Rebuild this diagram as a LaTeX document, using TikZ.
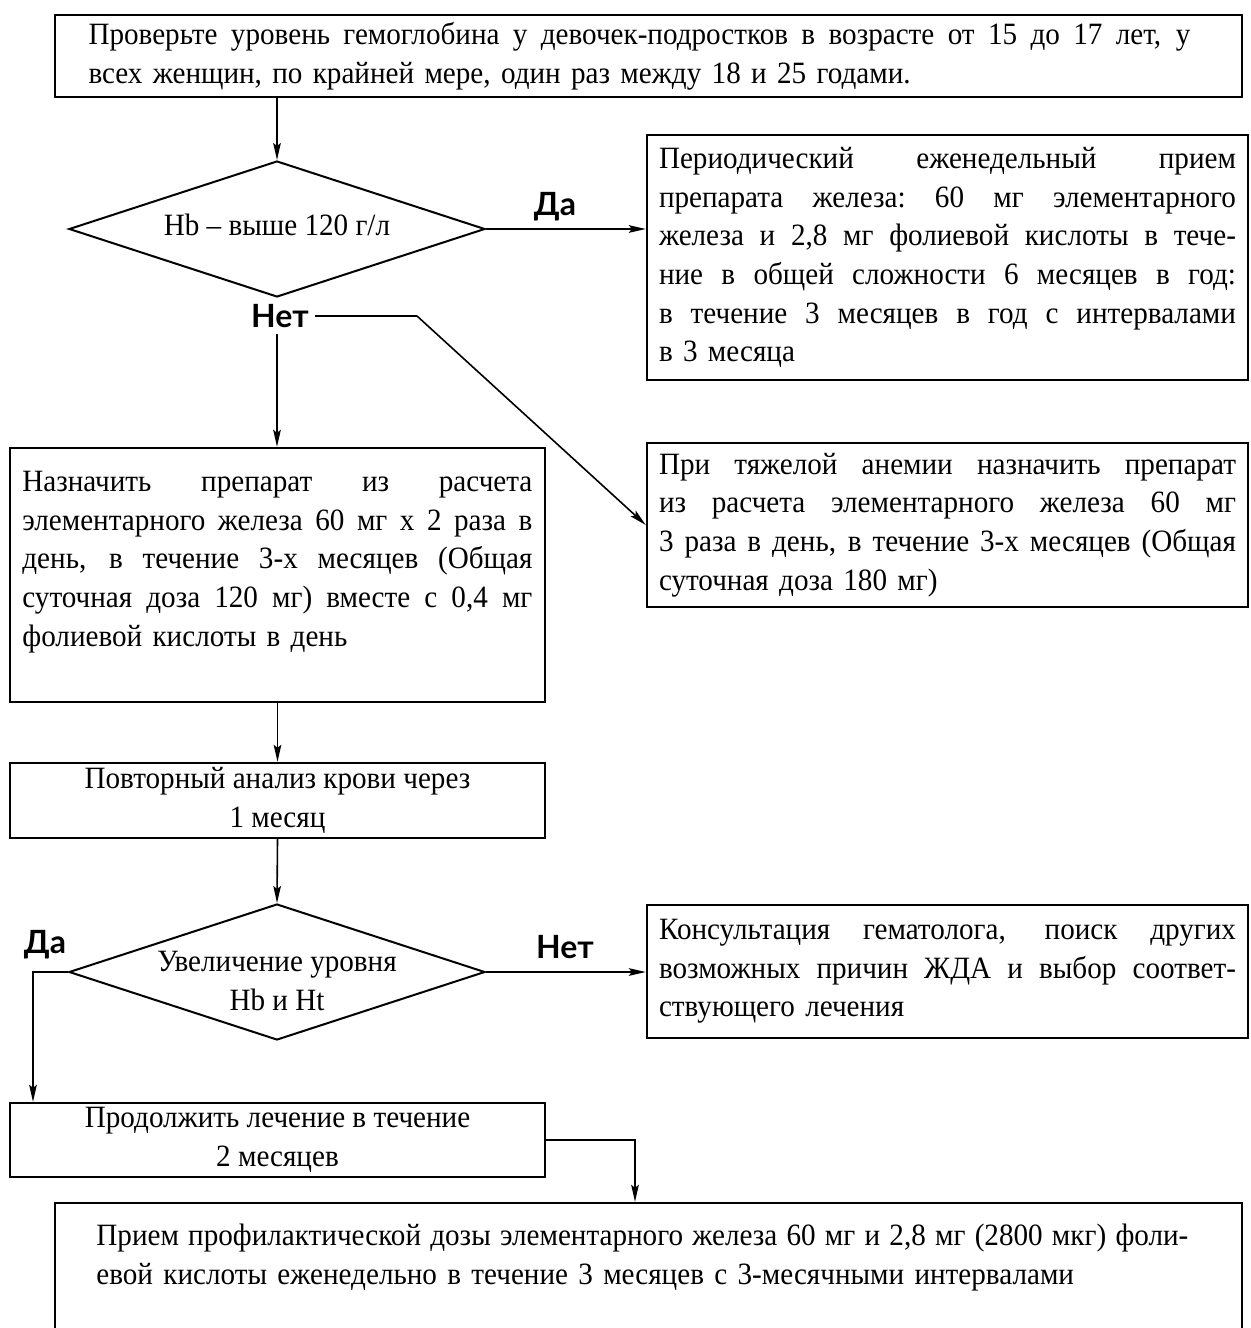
\documentclass[tikz,border=0pt]{standalone}
\usepackage{fontspec}
\setmainfont{Liberation Serif}[FakeStretch=0.94]
\newfontfamily\lblfont{Lato}
\usetikzlibrary{arrows.meta,shapes.geometric,calc}
\newcommand{\jw}[2]{\leavevmode\hbox to #1{\spaceskip=0.25em plus 10em minus 0.05em\relax\xspaceskip=\spaceskip #2}}
\newcommand{\rjl}[1]{\jw{288.5pt}{#1}}
\newcommand{\ljl}[1]{\jw{255pt}{#1}}
\begin{document}
\begin{tikzpicture}[x=0.5pt,y=-0.5pt,
  mainfont/.style={font=\fontsize{15.5}{19.3}\selectfont},
  box/.style={draw, line width=1.2pt, inner sep=0pt, mainfont},
  dia/.style={draw, diamond, line width=1pt, inner sep=0pt, minimum width=208pt, minimum height=68pt},
  txt/.style={inner sep=0pt, mainfont},
  lbl/.style={font=\lblfont\bfseries\fontsize{16}{18}\selectfont, inner sep=3pt},
  ln/.style={line width=0.8pt},
  arr/.style={line width=0.8pt, -{Stealth[length=8.5pt,width=3.8pt,inset=1.5pt]}}
]
\useasboundingbox (0,0) rectangle (1250,1328);

% top box
\node[box, minimum width=593.5pt, minimum height=41pt, text width=560pt, align=left] (top) at (648.5,56)
  {\jw{551pt}{Проверьте уровень гемоглобина у девочек-подростков в возрасте от 15 до 17 лет, у}\\
   всех женщин, по крайней мере, один раз между 18 и 25 годами.};

% decision 1
\node[dia] (d1) at (277,229) {};
\node[txt, align=center] (d1t) at (277,225) {Hb – выше 120 г/л};

% right box 1
\node[box, minimum width=300.5pt, minimum height=122.5pt, text width=288.5pt, align=left] (b1) at (947.5,257.5)
  {\rjl{Периодический еженедельный прием}\\
   \rjl{препарата железа: 60 мг элементарного}\\
   \rjl{железа и 2,8 мг фолиевой кислоты в тече-}\\
   \rjl{ние в общей сложности 6 месяцев в год:}\\
   \rjl{в течение 3 месяцев в год с интервалами}\\
   в 3 месяца};

% right box 2
\node[box, minimum width=300.5pt, minimum height=82pt, text width=288.5pt, align=left] (b2) at (947.5,525)
  {\rjl{При тяжелой анемии назначить препарат}\\
   \rjl{из расчета элементарного железа 60 мг}\\
   \rjl{3 раза в день, в течение 3-х месяцев (Общая}\\
   суточная доза 180 мг)};

% left box 3
\node[box, minimum width=267.5pt, minimum height=127pt] (b3) at (277.5,575) {};
\node[txt, anchor=north west, text width=255pt, align=left] (t3) at (22,471)
  {\ljl{Назначить препарат из расчета}\\
   \ljl{элементарного железа 60 мг х 2 раза в}\\
   \ljl{день, в течение 3-х месяцев (Общая}\\
   \ljl{суточная доза 120 мг) вместе с 0,4 мг}\\
   фолиевой кислоты в день};

% box 4
\node[box, minimum width=267.5pt, minimum height=37.5pt, align=center] (b4) at (277.5,800.5)
  {Повторный анализ крови через\\1 месяц};

% decision 2
\node[dia] (d2) at (277,972) {};
\node[txt, align=center] (d2t) at (277,981) {Увеличение уровня\\Hb и Ht};

% box 5
\node[box, minimum width=300.5pt, minimum height=66.5pt, text width=288.5pt, align=left] (b5) at (947.5,971.5)
  {\rjl{Консультация гематолога, поиск других}\\
   \rjl{возможных причин ЖДА и выбор соответ-}\\
   ствующего лечения};

% box 6
\node[box, minimum width=267.5pt, minimum height=37pt, align=center] (b6) at (277.5,1140)
  {Продолжить лечение в течение\\2 месяцев};

% box 7
\node[box, minimum width=593.5pt, minimum height=71pt] (b7) at (648.5,1274) {};
\node[txt, anchor=north west, text width=570pt, align=left] (t7) at (96,1224)
  {\jw{546pt}{Прием профилактической дозы элементарного железа 60 мг и 2,8 мг (2800 мкг) фоли-}\\
   евой кислоты еженедельно в течение 3 месяцев с 3-месячными интервалами};

% labels
\node[lbl] (da1) at (555,207) {Да};
\node[lbl] (net1) at (280,316) {Нет};
\node[lbl] (net2) at (565,947) {Нет};
\node[lbl] (da2) at (45,945) {Да};

\coordinate (k1) at (417,316);
\coordinate (k2) at (33,972);
\coordinate (k3) at (635,1140);

% connectors
\draw[arr] (top.south -| d1.north) -- (d1.north);
\draw[arr] (d1.east) -- (d1.east -| b1.west);
\draw[ln] (net1.east) -- (k1);
\draw[arr] (k1) -- (b2.west);
\draw[arr] (d1.south |- net1.south) -- (d1.south |- b3.north);
\draw[arr] (b3.south) -- (b4.north);
\draw[arr] (b4.south) -- (d2.north);
\draw[arr] (d2.east) -- (d2.east -| b5.west);
\draw[arr] (d2.west) -- (k2) -- (k2 |- b6.north);
\draw[arr] (b6.east) -- (k3) -- (k3 |- b7.north);
\end{tikzpicture}
\end{document}
